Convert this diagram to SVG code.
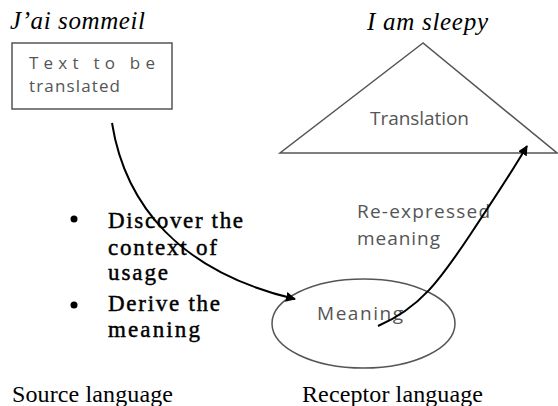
<svg xmlns="http://www.w3.org/2000/svg" width="558" height="406" viewBox="0 0 558 406">
<style>
.ser{font-family:"Liberation Serif","Times New Roman",serif;fill:#000}
.it{font-style:italic;font-size:25px}
.b{font-size:23px;stroke:#000;stroke-width:0.45}
.lab{font-size:24px}
.sans{font-family:"Open Sans","Noto Sans",sans-serif;font-size:19px;fill:#555}
.sm{font-size:17px}
.shape{fill:#fff;stroke:#555;stroke-width:1.5}
.conn{fill:none;stroke:#000;stroke-width:2}
</style>
<defs>
<marker id="ah" viewBox="0 0 10 10" refX="9" refY="5" markerWidth="5" markerHeight="5" orient="auto" markerUnits="strokeWidth">
<path d="M0,0 L10,5 L0,10 z" fill="#000"/>
</marker>
</defs>
<rect width="558" height="406" fill="#fff"/>
<text class="ser it" x="10" y="29" textLength="135">J’ai sommeil</text>
<text class="ser it" x="367" y="30" textLength="121">I am sleepy</text>
<g id="source">
<rect class="shape" x="12" y="43" width="160" height="66"/>
<text class="sans sm" x="29" y="69" textLength="126" lengthAdjust="spacing">Text to be</text>
<text class="sans sm" x="29" y="92" textLength="91">translated</text>
</g>
<g id="translation">
<polygon class="shape" points="423,43 280,153 557,153" stroke="#666"/>
<text class="sans" x="370" y="125" textLength="99">Translation</text>
</g>
<g id="meaning">
<ellipse class="shape" cx="363.5" cy="323.5" rx="91.5" ry="44.5" stroke="#444"/>
<text class="sans" x="317" y="320" textLength="86">Meaning</text>
</g>
<g id="notes">
<circle cx="74" cy="219" r="3.5" fill="#000"/>
<circle cx="74" cy="305" r="3.5" fill="#000"/>
<text class="ser b" x="108" y="228" textLength="135">Discover the</text>
<text class="ser b" x="108" y="255" textLength="109">context of</text>
<text class="ser b" x="108" y="280" textLength="60">usage</text>
<text class="ser b" x="108" y="311" textLength="112">Derive the</text>
<text class="ser b" x="108" y="337" textLength="92">meaning</text>
</g>
<g id="reexpressed">
<text class="sans" x="357" y="218" textLength="133">Re-expressed</text>
<text class="sans" x="357" y="245" textLength="83">meaning</text>
</g>
<g id="connectors">
<path class="conn" d="M112,123 C125,205 180,272 295,299" marker-end="url(#ah)"/>
<path class="conn" d="M378,326 C420,308 440,280 470,235 C490,205 510,175 527,146" marker-end="url(#ah)"/>
</g>
<text class="ser lab" x="12" y="402" textLength="161">Source language</text>
<text class="ser lab" x="302" y="402" textLength="181">Receptor language</text>
</svg>
